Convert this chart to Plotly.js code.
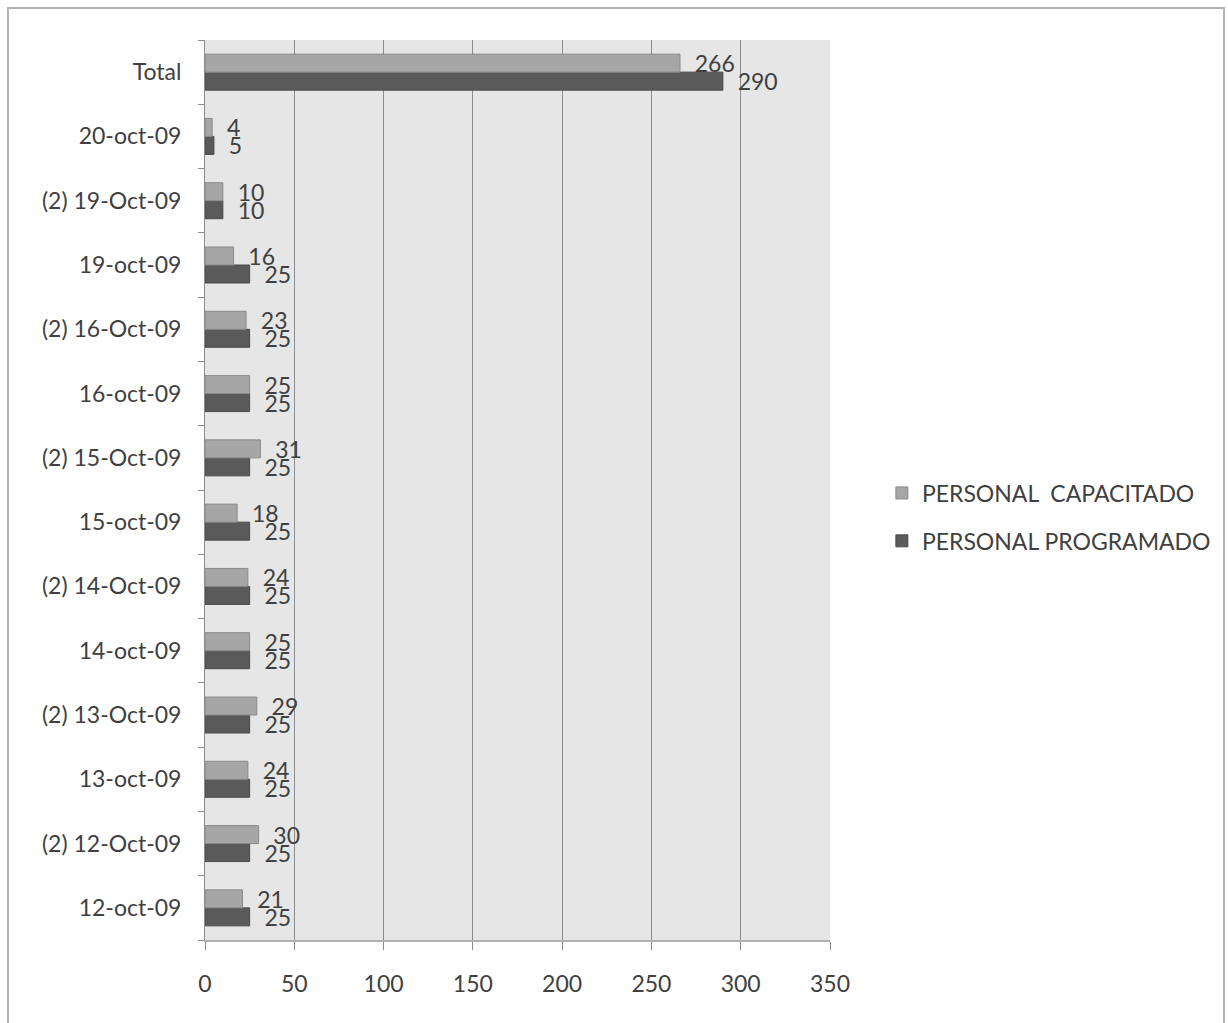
<!DOCTYPE html>
<html>
<head>
<meta charset="utf-8">
<script src="https://cdn.plot.ly/plotly-3.0.1.min.js"></script>
<style>
html,body{margin:0;padding:0;background:#fff;}
#frame{position:absolute;left:7px;top:7px;width:1218px;height:1016px;border-top:2px solid #b4b4b4;border-left:2px solid #b4b4b4;border-right:2px solid #b4b4b4;box-sizing:border-box;pointer-events:none;}
#chart{position:absolute;left:0;top:0;width:1228px;height:1023px;}
</style>
</head>
<body>
<div id="chart"></div>
<div id="frame"></div>
<script>
var categories = ["12-oct-09","(2) 12-Oct-09","13-oct-09","(2) 13-Oct-09","14-oct-09","(2) 14-Oct-09","15-oct-09","(2) 15-Oct-09","16-oct-09","(2) 16-Oct-09","19-oct-09","(2) 19-Oct-09","20-oct-09","Total"];
var capacitado = [21,30,24,29,25,24,18,31,25,23,16,10,4,266];
var programado = [25,25,25,25,25,25,25,25,25,25,25,10,5,290];
var xTicks = [0,50,100,150,200,250,300,350];

var fontFam = "Lato, 'Open Sans', sans-serif";
var txtColor = "#404040";

var traces = [
  {
    type: "bar", orientation: "h",
    name: "PERSONAL PROGRAMADO",
    y: categories, x: programado,
    marker: {color: "#5a5a5a", line: {color: "#4a4a4a", width: 1}},
    text: programado.map(function(v){return "\u00a0\u00a0" + v;}),
    textposition: "outside",
    textfont: {family: fontFam, size: 23, color: txtColor},
    constraintext: "none",
    cliponaxis: false,
    legendgroup: "b",
    legendrank: 2,
    hoverinfo: "x+y"
  },
  {
    type: "bar", orientation: "h",
    name: "PERSONAL  CAPACITADO",
    y: categories, x: capacitado,
    marker: {color: "#a6a6a6", line: {color: "#8a8a8a", width: 1}},
    text: capacitado.map(function(v){return "\u00a0\u00a0" + v;}),
    textposition: "outside",
    textfont: {family: fontFam, size: 23, color: txtColor},
    constraintext: "none",
    cliponaxis: false,
    legendgroup: "a",
    legendrank: 1,
    hoverinfo: "x+y"
  }
];

var layout = {
  width: 1228, height: 1023,
  margin: {l: 205, r: 396, t: 40, b: 83, pad: 0},
  paper_bgcolor: "rgba(0,0,0,0)",
  plot_bgcolor: "#e6e6e6",
  barmode: "group",
  bargap: 0.44,
  bargroupgap: 0,
  font: {family: fontFam, size: 23, color: txtColor},
  showlegend: true,
  legend: {
    x: 1.083, xanchor: "left", y: 0.47, yanchor: "middle",
    traceorder: "grouped",
    tracegroupgap: 15,
    font: {family: fontFam, size: 23, color: txtColor},
    itemwidth: 30
  },
  xaxis: {
    range: [0, 350],
    tickvals: xTicks,
    ticktext: xTicks.map(String),
    showgrid: true, gridcolor: "#8c8c8c", gridwidth: 1,
    zeroline: false,
    showline: true, linecolor: "#b0b0b0", linewidth: 2,
    ticks: "outside", ticklen: 8, tickcolor: "#8c8c8c", tickwidth: 1,
    tickfont: {family: fontFam, size: 23, color: txtColor},
    ticklabelstandoff: 14,
    fixedrange: true
  },
  yaxis: {
    type: "category",
    categoryorder: "array", categoryarray: categories,
    showgrid: false, zeroline: false,
    showline: true, linecolor: "#8c8c8c", linewidth: 1,
    ticks: "outside", tickson: "boundaries", ticklen: 6, tickcolor: "#8c8c8c",
    tickfont: {family: fontFam, size: 23, color: txtColor},
    ticklabelstandoff: 18,
    fixedrange: true
  }
};

Plotly.newPlot("chart", traces, layout, {displayModeBar: false, staticPlot: true});
</script>
</body>
</html>
